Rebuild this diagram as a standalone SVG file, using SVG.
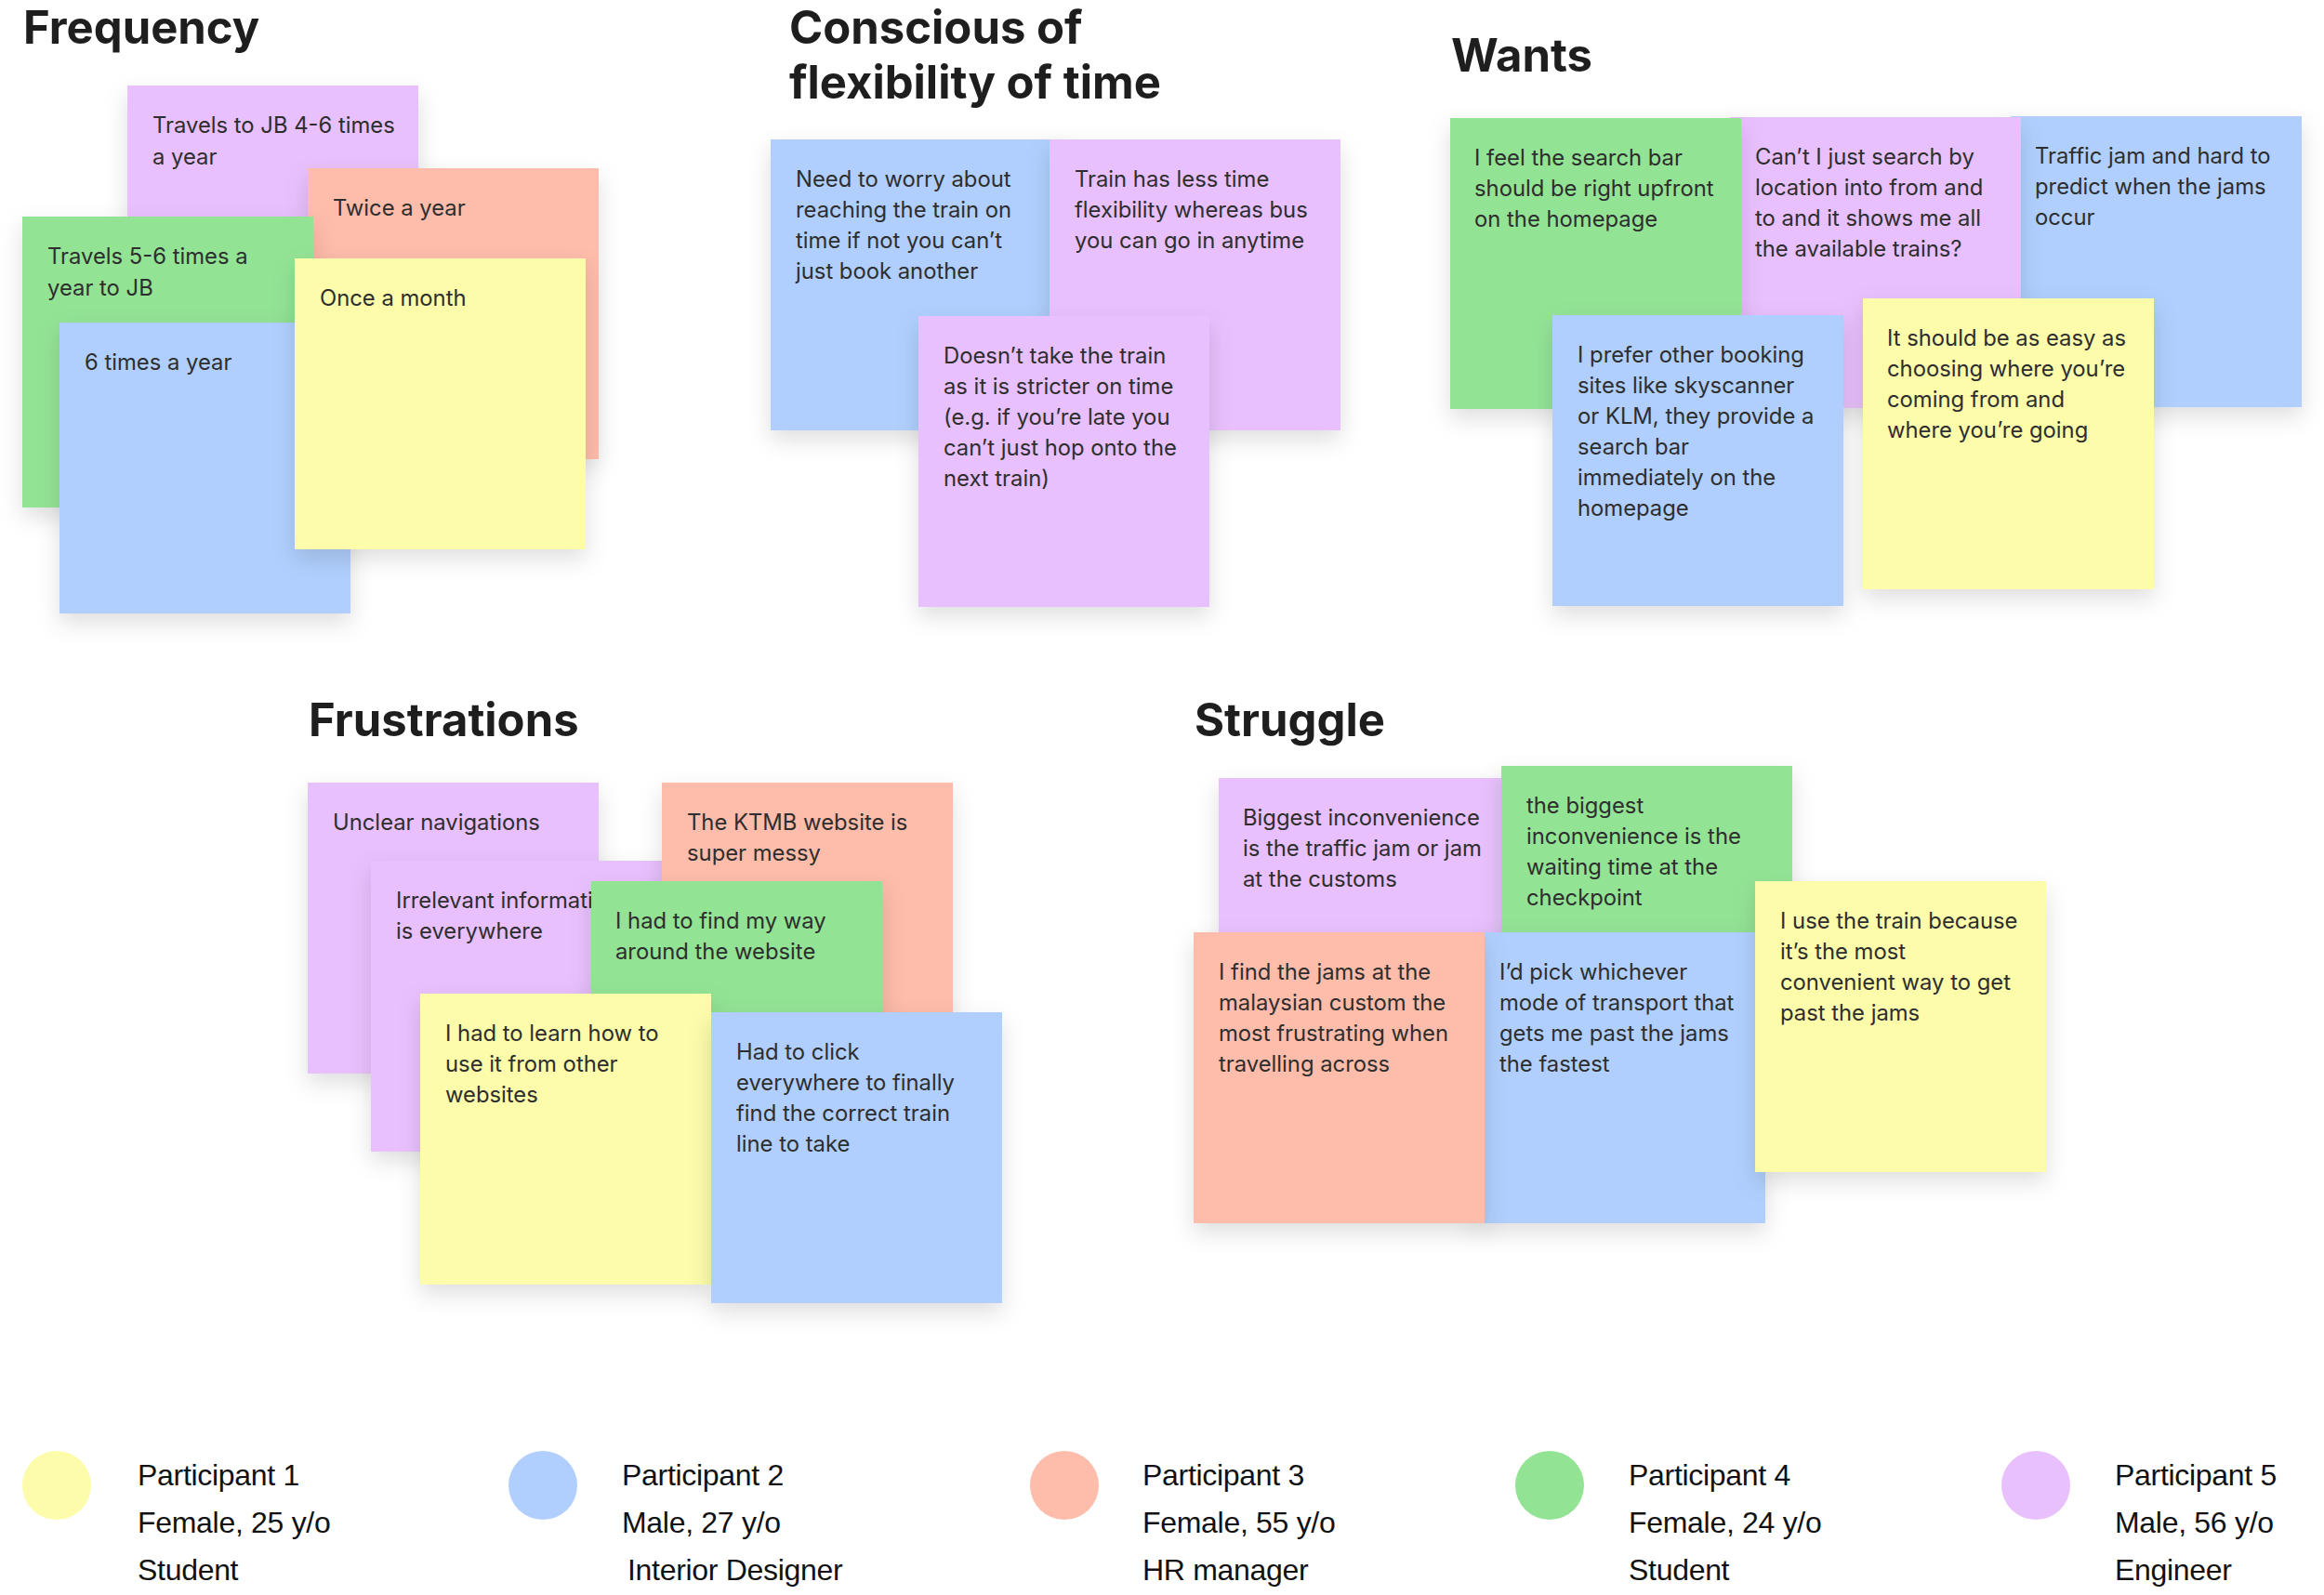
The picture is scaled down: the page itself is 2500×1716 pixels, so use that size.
<svg xmlns="http://www.w3.org/2000/svg" width="2500" height="1716" viewBox="0 0 2500 1716">
<defs>
<filter id="sh" x="-20%" y="-20%" width="150%" height="160%">
<feDropShadow dx="0" dy="10" stdDeviation="12" flood-color="#000" flood-opacity="0.13"/>
</filter>
<style>
.note{filter:url(#sh)}
.y{fill:#FCFCAA}.b{fill:#B0CFFE}.s{fill:#FEBCAA}.g{fill:#93E395}.p{fill:#E8C0FD}
.t{font-family:Inter,"Noto Sans",sans-serif;font-size:23.8px;fill:#2E2E2E}
.h{font-family:Inter,"Noto Sans",sans-serif;font-size:49px;font-weight:700;fill:#1E1E1E}
.l{font-family:"Liberation Sans",Arial,sans-serif;font-size:32px;letter-spacing:-0.3px;fill:#111111}
</style>
</defs>
<rect width="2500" height="1716" fill="#FFFFFF"/>

<g id="titles">
<text class="h" x="25" y="47">Frequency</text>
<text class="h" x="849" y="47">Conscious of</text>
<text class="h" x="849" y="106">flexibility of time</text>
<text class="h" x="1561" y="77">Wants</text>
<text class="h" x="332" y="792">Frustrations</text>
<text class="h" x="1285" y="792">Struggle</text>
</g>

<g id="connectors"></g>

<!-- Frequency -->
<g id="freq-1"><rect class="note p" x="137" y="92" width="313" height="313"/>
<text class="t" x="164" y="143">Travels to JB 4-6 times<tspan x="164" dy="34">a year</tspan></text></g>
<g id="freq-2"><rect class="note s" x="331" y="181" width="313" height="313"/>
<text class="t" x="358" y="232">Twice a year</text></g>
<g id="freq-3"><rect class="note g" x="24" y="233" width="313" height="313"/>
<text class="t" x="51" y="284">Travels 5-6 times a<tspan x="51" dy="34">year to JB</tspan></text></g>
<g id="freq-4"><rect class="note b" x="64" y="347" width="313" height="313"/>
<text class="t" x="91" y="398">6 times a year</text></g>
<g id="freq-5"><rect class="note y" x="317" y="278" width="313" height="313"/>
<text class="t" x="344" y="329">Once a month</text></g>

<!-- Conscious -->
<g id="cons-1"><rect class="note b" x="829" y="150" width="313" height="313"/>
<text class="t" x="856" y="201">Need to worry about<tspan x="856" dy="33">reaching the train on</tspan><tspan x="856" dy="33">time if not you can’t</tspan><tspan x="856" dy="33">just book another</tspan></text></g>
<g id="cons-2"><rect class="note p" x="1129" y="150" width="313" height="313"/>
<text class="t" x="1156" y="201">Train has less time<tspan x="1156" dy="33">flexibility whereas bus</tspan><tspan x="1156" dy="33">you can go in anytime</tspan></text></g>
<g id="cons-3"><rect class="note p" x="988" y="340" width="313" height="313"/>
<text class="t" x="1015" y="391">Doesn’t take the train<tspan x="1015" dy="33">as it is stricter on time</tspan><tspan x="1015" dy="33">(e.g. if you’re late you</tspan><tspan x="1015" dy="33">can’t just hop onto the</tspan><tspan x="1015" dy="33">next train)</tspan></text></g>

<!-- Wants -->
<g id="want-3"><rect class="note b" x="2163" y="125" width="313" height="313"/>
<text class="t" x="2189" y="176">Traffic jam and hard to<tspan x="2189" dy="33">predict when the jams</tspan><tspan x="2189" dy="33">occur</tspan></text></g>
<g id="want-2"><rect class="note p" x="1861" y="126" width="313" height="313"/>
<text class="t" x="1888" y="177">Can’t I just search by<tspan x="1888" dy="33">location into from and</tspan><tspan x="1888" dy="33">to and it shows me all</tspan><tspan x="1888" dy="33">the available trains?</tspan></text></g>
<g id="want-1"><rect class="note g" x="1560" y="127" width="313" height="313"/>
<text class="t" x="1586" y="178">I feel the search bar<tspan x="1586" dy="33">should be right upfront</tspan><tspan x="1586" dy="33">on the homepage</tspan></text></g>
<g id="want-4"><rect class="note b" x="1670" y="339" width="313" height="313"/>
<text class="t" x="1697" y="390">I prefer other booking<tspan x="1697" dy="33">sites like skyscanner</tspan><tspan x="1697" dy="33">or KLM, they provide a</tspan><tspan x="1697" dy="33">search bar</tspan><tspan x="1697" dy="33">immediately on the</tspan><tspan x="1697" dy="33">homepage</tspan></text></g>
<g id="want-5"><rect class="note y" x="2004" y="321" width="313" height="313"/>
<text class="t" x="2030" y="372">It should be as easy as<tspan x="2030" dy="33">choosing where you’re</tspan><tspan x="2030" dy="33">coming from and</tspan><tspan x="2030" dy="33">where you’re going</tspan></text></g>

<!-- Frustrations -->
<g id="frus-1"><rect class="note p" x="331" y="842" width="313" height="313"/>
<text class="t" x="358" y="893">Unclear navigations</text></g>
<g id="frus-2"><rect class="note p" x="399" y="926" width="313" height="313"/>
<text class="t" x="426" y="977">Irrelevant information<tspan x="426" dy="33">is everywhere</tspan></text></g>
<g id="frus-3"><rect class="note s" x="712" y="842" width="313" height="313"/>
<text class="t" x="739" y="893">The KTMB website is<tspan x="739" dy="33">super messy</tspan></text></g>
<g id="frus-4"><rect class="note g" x="636" y="948" width="313" height="313"/>
<text class="t" x="662" y="999">I had to find my way<tspan x="662" dy="33">around the website</tspan></text></g>
<g id="frus-5"><rect class="note y" x="452" y="1069" width="313" height="313"/>
<text class="t" x="479" y="1120">I had to learn how to<tspan x="479" dy="33">use it from other</tspan><tspan x="479" dy="33">websites</tspan></text></g>
<g id="frus-6"><rect class="note b" x="765" y="1089" width="313" height="313"/>
<text class="t" x="792" y="1140">Had to click<tspan x="792" dy="33">everywhere to finally</tspan><tspan x="792" dy="33">find the correct train</tspan><tspan x="792" dy="33">line to take</tspan></text></g>

<!-- Struggle -->
<g id="strg-1"><rect class="note p" x="1311" y="837" width="313" height="313"/>
<text class="t" x="1337" y="888">Biggest inconvenience<tspan x="1337" dy="33">is the traffic jam or jam</tspan><tspan x="1337" dy="33">at the customs</tspan></text></g>
<g id="strg-2"><rect class="note g" x="1615" y="824" width="313" height="313"/>
<text class="t" x="1642" y="875">the biggest<tspan x="1642" dy="33">inconvenience is the</tspan><tspan x="1642" dy="33">waiting time at the</tspan><tspan x="1642" dy="33">checkpoint</tspan></text></g>
<g id="strg-4"><rect class="note b" x="1586" y="1003" width="313" height="313"/>
<text class="t" x="1613" y="1054">I’d pick whichever<tspan x="1613" dy="33">mode of transport that</tspan><tspan x="1613" dy="33">gets me past the jams</tspan><tspan x="1613" dy="33">the fastest</tspan></text></g>
<g id="strg-3"><rect class="note s" x="1284" y="1003" width="313" height="313"/>
<text class="t" x="1311" y="1054">I find the jams at the<tspan x="1311" dy="33">malaysian custom the</tspan><tspan x="1311" dy="33">most frustrating when</tspan><tspan x="1311" dy="33">travelling across</tspan></text></g>
<g id="strg-5"><rect class="note y" x="1888" y="948" width="313" height="313"/>
<text class="t" x="1915" y="999">I use the train because<tspan x="1915" dy="33">it’s the most</tspan><tspan x="1915" dy="33">convenient way to get</tspan><tspan x="1915" dy="33">past the jams</tspan></text></g>

<!-- Legend -->
<g id="legend-1"><circle class="y" cx="61" cy="1598" r="37"/>
<text class="l" x="148" y="1598">Participant 1<tspan x="148" dy="51">Female, 25 y/o</tspan><tspan x="148" dy="51">Student</tspan></text></g>
<g id="legend-2"><circle class="b" cx="584" cy="1598" r="37"/>
<text class="l" x="669" y="1598">Participant 2<tspan x="669" dy="51">Male, 27 y/o</tspan><tspan x="675" dy="51">Interior Designer</tspan></text></g>
<g id="legend-3"><circle class="s" cx="1145" cy="1598" r="37"/>
<text class="l" x="1229" y="1598">Participant 3<tspan x="1229" dy="51">Female, 55 y/o</tspan><tspan x="1229" dy="51">HR manager</tspan></text></g>
<g id="legend-4"><circle class="g" cx="1667" cy="1598" r="37"/>
<text class="l" x="1752" y="1598">Participant 4<tspan x="1752" dy="51">Female, 24 y/o</tspan><tspan x="1752" dy="51">Student</tspan></text></g>
<g id="legend-5"><circle class="p" cx="2190" cy="1598" r="37"/>
<text class="l" x="2275" y="1598">Participant 5<tspan x="2275" dy="51">Male, 56 y/o</tspan><tspan x="2275" dy="51">Engineer</tspan></text></g>
</svg>
